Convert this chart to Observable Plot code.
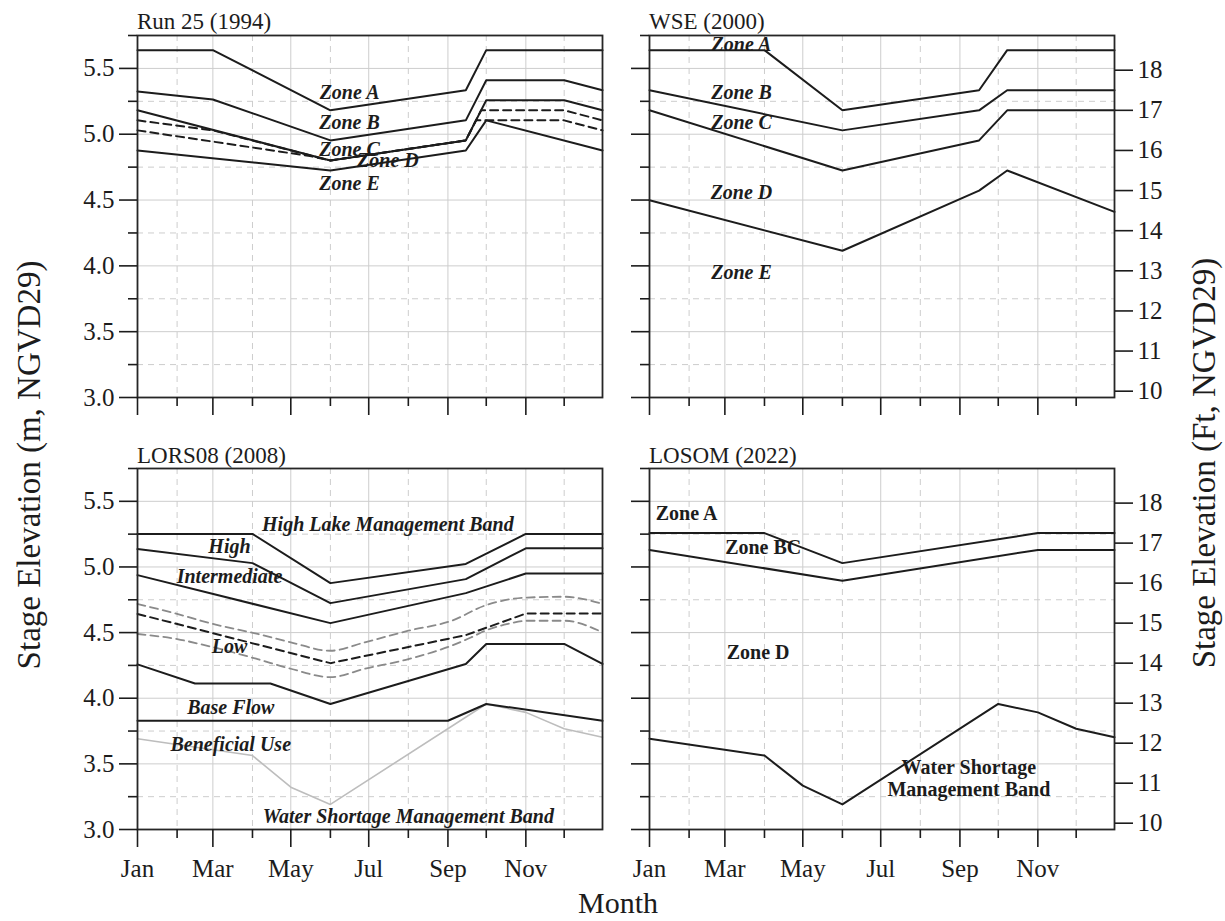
<!DOCTYPE html>
<html><head><meta charset="utf-8">
<script src="https://cdn.jsdelivr.net/npm/d3@7"></script>
<script src="https://cdn.jsdelivr.net/npm/@observablehq/plot@0.6"></script>
<style>
html,body{margin:0;padding:0;background:#fff;}
#chart{position:relative;width:1225px;height:921px;overflow:hidden;background:#fff;}
#chart > svg{position:absolute;}
</style></head><body><div id="chart"></div>
<script>
const FT2M = 0.3048;
const YEAR = "2001-";

// ---- tick values ----
const majorYm = [3.0, 3.5, 4.0, 4.5, 5.0, 5.5];
const minorYm = [3.25, 3.75, 4.25, 4.75, 5.25, 5.75];
const ftTicks = [10, 11, 12, 13, 14, 15, 16, 17, 18];
const majorMonths = ["01-01", "03-01", "05-01", "07-01", "09-01", "11-01"];
const minorMonths = ["02-01", "04-01", "06-01", "08-01", "10-01", "12-01"];

// ---- Run 25 (1994), values in ft ----
const run25ZoneA = [["01-01",18.5],["03-01",18.5],["06-01",17.0],["09-15",17.5],["10-01",18.5],["12-31",18.5]];
const run25ZoneB = [["01-01",17.47],["03-01",17.27],["06-01",16.25],["09-15",16.75],["10-01",17.75],["12-01",17.75],["12-31",17.5]];
const run25ZoneC = [["01-01",17.0],["06-01",15.75],["09-15",16.25],["10-01",17.25],["12-01",17.25],["12-31",17.0]];
const run25DashUp = [["01-01",16.75],["03-01",16.5],["06-01",15.75],["09-15",16.25],["09-27",17.0],["12-01",17.0],["12-31",16.75]];
const run25DashLo = [["01-01",16.5],["05-16",15.86],["06-01",15.75],["09-15",16.25],["09-23",16.75],["12-01",16.75],["12-31",16.5]];
const run25ZoneE = [["01-01",16.0],["06-01",15.5],["09-15",16.0],["10-01",16.75],["12-31",16.0]];
const run25Labels = [["Zone A","06-16",17.46],["Zone B","06-16",16.71],["Zone C","06-16",16.04],["Zone D","07-16",15.76],["Zone E","06-16",15.19]];

// ---- WSE (2000) ----
const wseZoneA = [["01-01",18.5],["04-01",18.5],["06-01",17.0],["09-16",17.5],["10-08",18.5],["12-31",18.5]];
const wseZoneB = [["01-01",17.5],["06-01",16.5],["09-16",17.0],["10-08",17.5],["12-31",17.5]];
const wseZoneC = [["01-01",17.0],["06-01",15.5],["09-16",16.25],["10-08",17.0],["12-31",17.0]];
const wseZoneD = [["01-01",14.76],["06-01",13.5],["09-16",15.0],["10-08",15.5],["12-31",14.47]];
const wseLabels = [["Zone A","03-14",18.66],["Zone B","03-14",17.46],["Zone C","03-14",16.71],["Zone D","03-14",14.96],["Zone E","03-14",12.96]];

// ---- LORS08 (2008) ----
const lorsHLMB = [["01-01",17.23],["04-01",17.23],["06-01",16.0],["09-15",16.48],["11-01",17.23],["12-31",17.23]];
const lorsHigh = [["01-01",16.85],["04-01",16.5],["06-01",15.5],["09-15",16.1],["11-01",16.87],["12-31",16.87]];
const lorsInter = [["01-01",16.2],["06-01",15.0],["09-15",15.75],["11-01",16.24],["12-31",16.24]];
const lorsLowUp = [["01-01",15.48],["02-01",15.23],["03-01",14.98],["04-05",14.73],["05-01",14.52],["06-01",14.31],["06-28",14.52],["08-01",14.81],["09-04",15.06],["09-30",15.44],["11-02",15.64],["12-01",15.66],["12-31",15.48]];
const lorsLowMid = [["01-01",15.23],["06-01",14.0],["09-15",14.7],["11-01",15.24],["12-31",15.24]];
const lorsLowLo = [["01-01",14.73],["02-01",14.6],["03-01",14.4],["04-05",14.1],["05-01",13.86],["06-01",13.65],["06-28",13.86],["08-01",14.1],["09-04",14.44],["09-19",14.64],["09-30",14.81],["10-18",14.98],["11-02",15.06],["12-01",15.06],["12-31",14.77]];
const lorsBase = [["01-01",13.97],["02-15",13.49],["04-15",13.49],["06-01",12.98],["09-15",13.98],["10-01",14.48],["12-01",14.48],["12-31",13.98]];
const lorsBenef = [["01-01",12.56],["09-01",12.56],["10-01",12.98],["12-31",12.56]];
const lorsWSM = [["01-01",12.11],["04-01",11.69],["05-01",10.9],["06-01",10.47],["10-01",12.98],["11-01",12.77],["12-01",12.36],["12-31",12.15]];
const lorsLabels = [["High Lake Management Band","07-16",17.48],["High","03-14",16.93],["Intermediate","03-14",16.19],["Low","03-14",14.44],["Base Flow","03-15",12.91],["Beneficial Use","03-15",11.97],["Water Shortage Management Band","08-01",10.19]];

// ---- LOSOM (2022) ----
const losomZoneA = [["01-01",17.25],["04-01",17.25],["06-01",16.5],["11-01",17.25],["12-31",17.25]];
const losomZoneBC = [["01-01",16.83],["06-01",16.06],["11-01",16.83],["12-31",16.83]];
const losomWSM = [["01-01",12.11],["04-01",11.69],["05-01",10.94],["06-01",10.47],["10-01",12.98],["11-01",12.77],["12-01",12.36],["12-31",12.15]];
const losomLabels = [["Zone A","01-30",17.76],["Zone BC","03-31",16.91],["Zone D","03-27",14.29],["Water Shortage\nManagement Band","09-08",11.12]];

// ---- helpers ----
const day = md => new Date(YEAR + md + "T00:00:00Z");
const series = arr => arr.map(([md, ft]) => ({date: day(md), m: ft * FT2M}));
const GRID = "#cdcdcd";
const INK = "#1c1c1c";
const SERIF = "Liberation Serif, Times New Roman, serif";

function panel({lines, labels, labelStyle, leftLabels, rightAxis, monthLabels, width, height, mt, mb, ml, mr}) {
  const marks = [
    Plot.ruleY(majorYm, {stroke: GRID, strokeWidth: 1}),
    Plot.ruleY(minorYm, {stroke: GRID, strokeWidth: 1, strokeDasharray: "6,5"}),
    Plot.ruleX(majorMonths.map(day), {stroke: GRID, strokeWidth: 1}),
    Plot.ruleX(minorMonths.map(day), {stroke: GRID, strokeWidth: 1, strokeDasharray: "6,5"}),
    ...lines.map(l => Plot.line(series(l.data), {x: "date", y: "m", stroke: l.color || INK, strokeWidth: l.width || 2, strokeDasharray: l.dash, curve: l.curve || "linear"})),
    Plot.text(labels, {x: d => day(d[1]), y: d => d[2] * FT2M, text: d => d[0], fontFamily: SERIF, fontSize: 20, fontWeight: "bold", fontStyle: labelStyle, fill: INK, lineHeight: 1.1}),
    Plot.frame({stroke: "#262626", strokeWidth: 1.8}),
    Plot.axisY(majorYm, {anchor: "left", tickSize: 18, tickPadding: 5, tickFormat: leftLabels ? d3.format(".1f") : () => "", stroke: INK, strokeWidth: 1.6, label: null}),
    Plot.axisY(minorYm, {anchor: "left", tickSize: 9, tickFormat: () => "", stroke: INK, strokeWidth: 1.6, label: null}),
    Plot.axisX(majorMonths.map(day), {anchor: "bottom", tickSize: 18, tickPadding: 12, tickFormat: monthLabels ? d3.utcFormat("%b") : () => "", stroke: INK, strokeWidth: 1.6, label: null}),
    Plot.axisX(minorMonths.map(day), {anchor: "bottom", tickSize: 9, tickFormat: () => "", stroke: INK, strokeWidth: 1.6, label: null})
  ];
  if (rightAxis) marks.push(Plot.axisY(ftTicks.map(f => f * FT2M), {anchor: "right", tickSize: 18, tickPadding: 5, tickFormat: d => String(Math.round(d / FT2M)), stroke: INK, strokeWidth: 1.6, label: null}));
  return Plot.plot({
    width, height, marginTop: mt, marginBottom: mb, marginLeft: ml, marginRight: mr,
    x: {type: "utc", domain: [day("01-01"), day("12-31")]},
    y: {domain: [3.0, 5.75]},
    style: {background: "transparent", overflow: "visible", fontFamily: SERIF, fontSize: "25px", color: INK},
    marks
  });
}

const chart = document.getElementById("chart");
function place(svg, left, top) { svg.style.left = left + "px"; svg.style.top = top + "px"; chart.appendChild(svg); }

place(panel({
  lines: [{data: run25ZoneA}, {data: run25ZoneB}, {data: run25ZoneC},
          {data: run25DashUp, dash: "8,5"}, {data: run25DashLo, dash: "8,5"}, {data: run25ZoneE}],
  labels: run25Labels, labelStyle: "italic", leftLabels: true, rightAxis: false, monthLabels: false,
  width: 612, height: 440, mt: 35, mb: 43, ml: 137, mr: 10
}), 0, 0);

place(panel({
  lines: [{data: wseZoneA}, {data: wseZoneB}, {data: wseZoneC}, {data: wseZoneD}],
  labels: wseLabels, labelStyle: "italic", leftLabels: false, rightAxis: true, monthLabels: false,
  width: 613, height: 440, mt: 35, mb: 43, ml: 37, mr: 111
}), 612, 0);

place(panel({
  lines: [{data: lorsWSM, color: "#bdbdbd", width: 1.6},
          {data: lorsHLMB}, {data: lorsHigh}, {data: lorsInter},
          {data: lorsLowUp, color: "#8a8a8a", width: 1.8, dash: "8,5", curve: "monotone-x"},
          {data: lorsLowMid, dash: "8,5"},
          {data: lorsLowLo, color: "#8a8a8a", width: 1.8, dash: "8,5", curve: "monotone-x"},
          {data: lorsBase}, {data: lorsBenef}],
  labels: lorsLabels, labelStyle: "italic", leftLabels: true, rightAxis: false, monthLabels: true,
  width: 612, height: 481, mt: 28, mb: 92, ml: 137, mr: 10
}), 0, 440);

place(panel({
  lines: [{data: losomZoneA}, {data: losomZoneBC}, {data: losomWSM}],
  labels: losomLabels, labelStyle: "normal", leftLabels: false, rightAxis: true, monthLabels: true,
  width: 613, height: 481, mt: 28, mb: 92, ml: 37, mr: 111
}), 612, 440);

// ---- titles and axis titles ----
const panelTitles = [["Run 25 (1994)", 137, 29], ["WSE (2000)", 649, 29], ["LORS08 (2008)", 137, 463], ["LOSOM (2022)", 649, 463]];
const overlay = d3.create("svg").attr("width", 1225).attr("height", 921)
  .style("left", "0px").style("top", "0px").style("pointer-events", "none")
  .attr("font-family", SERIF).attr("fill", INK);
overlay.selectAll("text.pt").data(panelTitles).join("text")
  .attr("x", d => d[1]).attr("y", d => d[2]).attr("font-size", 23).text(d => d[0]);
overlay.append("text").attr("transform", "translate(40,465) rotate(-90)").attr("text-anchor", "middle")
  .attr("font-size", 33).text("Stage Elevation (m, NGVD29)");
overlay.append("text").attr("transform", "translate(1215,463) rotate(-90)").attr("text-anchor", "middle")
  .attr("font-size", 33).text("Stage Elevation (Ft, NGVD29)");
overlay.append("text").attr("x", 618).attr("y", 913).attr("text-anchor", "middle")
  .attr("font-size", 30).text("Month");
chart.appendChild(overlay.node());
</script></body></html>
